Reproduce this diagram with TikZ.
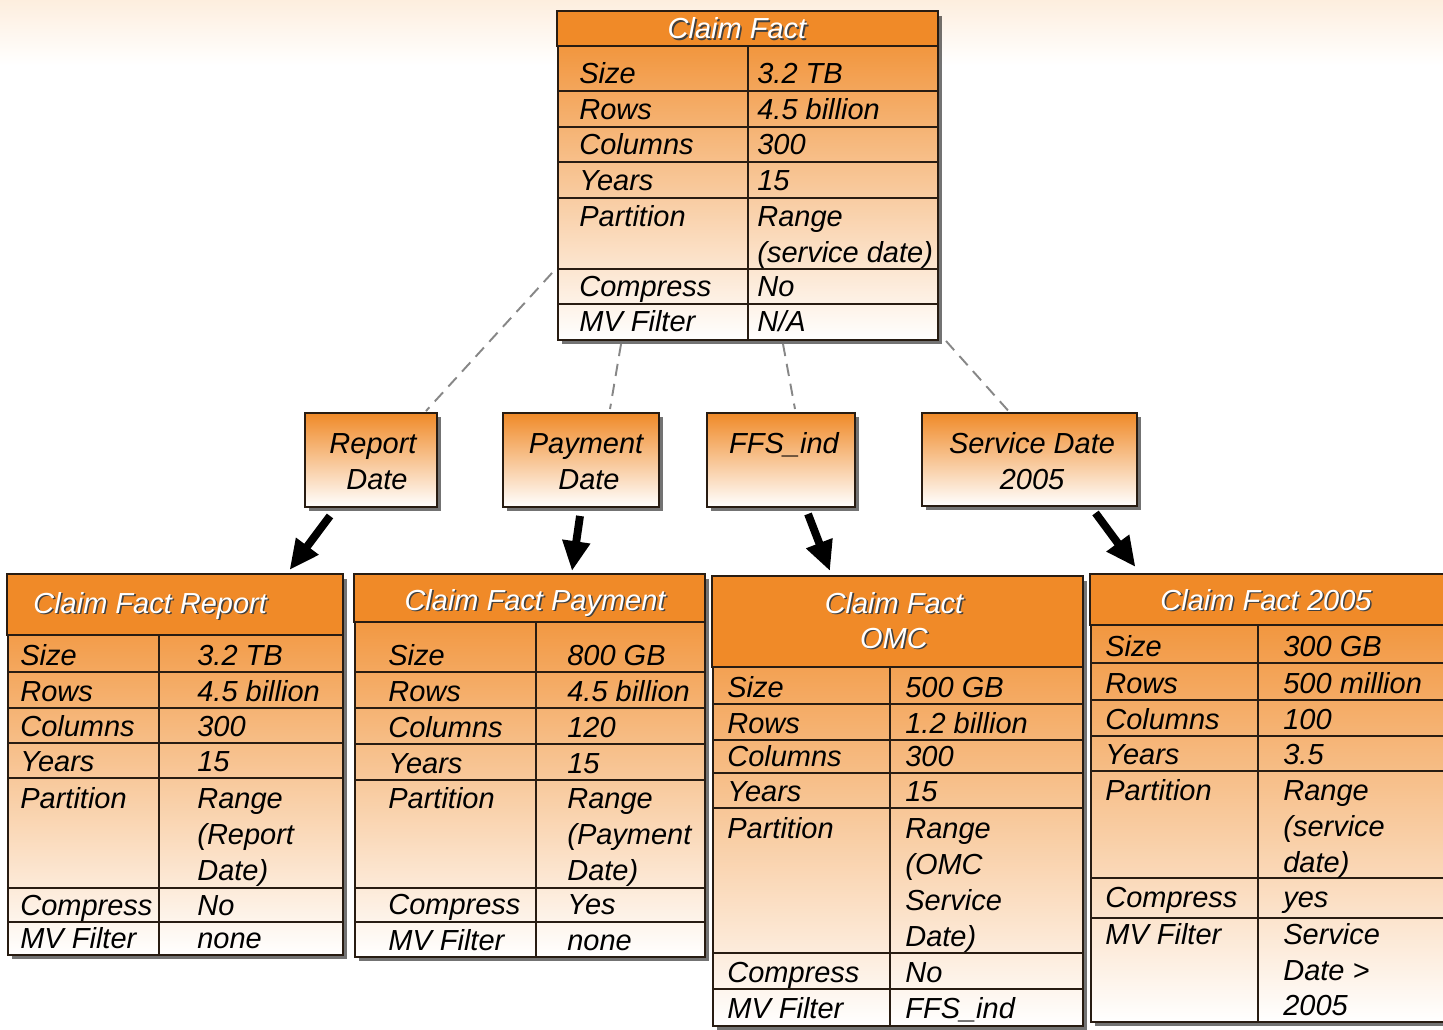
\documentclass[tikz,border=0pt]{standalone}
\usepackage{fontspec}
\setmainfont{Liberation Sans}
\definecolor{cforange}{RGB}{240,138,40}
\definecolor{cfpeach}{RGB}{253,238,222}
\definecolor{cfline}{RGB}{40,28,18}
\definecolor{cfdash}{RGB}{135,135,135}
\usetikzlibrary{arrows.meta,positioning,calc,fit,shadows}

\begin{document}
\begin{tikzpicture}[x=0.02cm,y=-0.02cm,
  txt/.style={font=\fontsize{16.5}{20.4}\selectfont\itshape},
  cell/.style={txt,anchor=base west,inner sep=0pt},
  tbl/.style={draw=cfline,line width=1.1pt,inner sep=0pt,top color=cforange,bottom color=white,
    drop shadow={shadow xshift=2.5pt,shadow yshift=-2.5pt,opacity=0.55,fill=black}},
  ttlband/.style={fill=cforange,draw=cfline,line width=1.1pt},
  ttl/.style={txt,white,anchor=base,inner sep=0pt},
  ttlshade/.style={txt,black!75,anchor=base,inner sep=0pt,xshift=0.9pt,yshift=-0.9pt},
  keybox/.style={tbl},
  keytxt/.style={txt,anchor=base,inner sep=0pt},
  rule/.style={cfline,line width=0.9pt},
  dashlink/.style={cfdash,line width=1.1pt,dash pattern=on 7pt off 4.5pt},
  push/.style={line width=4.5pt,-{Triangle[length=17pt,width=15pt]}}
]
  \useasboundingbox (0,0) rectangle (1443,1030);
  \clip (0,0) rectangle (1443,1030);
  \shade[top color=cfpeach,bottom color=white] (0,0) rectangle (1443,65);

  % Claim Fact
  \node[tbl,fit={(558,12) (938,340)}] (cf) {};
  \draw[ttlband] (cf.north west) rectangle (938,46);
  \node[ttlshade] (cft0) at (737,39) {Claim Fact};
  \node[ttl] (cft) at (737,39) {Claim Fact};
  \foreach \yy in {91,127,162,198,269,304} \draw[rule] (558,\yy) -- (938,\yy);
  \draw[rule] (748,46) -- (748,340);
  \foreach \lab/\val/\yb [count=\i] in {Size/3.2 TB/84,Rows/4.5 billion/120,Columns/300/155,
      Years/15/191,Partition/Range/227,Compress/No/297,MV Filter/{N/A}/332}{
    \node[cell] (cfl\i) at (579,\yb) {\lab};
    \node[cell] (cfv\i) at (757,\yb) {\val};
  }
  \node[cell] (cfv5b) at (757,263) {(service date)};

  % Claim Fact Report
  \node[tbl,fit={(8,575) (343,955)}] (crp) {};
  \draw[ttlband] (crp.north west) rectangle (343,635);
  \node[ttlshade,anchor=base west] (crpt0) at (33,613) {Claim Fact Report};
  \node[ttl,anchor=base west] (crpt) at (33,613) {Claim Fact Report};
  \foreach \yy in {672,708,743,778,888,922} \draw[rule] (8,\yy) -- (343,\yy);
  \draw[rule] (159,635) -- (159,955);
  \foreach \lab/\val/\yb [count=\i] in {Size/3.2 TB/665,Rows/4.5 billion/701,Columns/300/736,
      Years/15/771,Partition/Range/808,Compress/No/915,MV Filter/none/948}{
    \node[cell] (crpl\i) at (20,\yb) {\lab};
    \node[cell] (crpv\i) at (197,\yb) {\val};
  }
  \node[cell] (crpv5b) at (197,844) {(Report};
  \node[cell] (crpv5c) at (197,880) {Date)};

  % Claim Fact Payment
  \node[tbl,fit={(355,575) (705,957)}] (cpm) {};
  \draw[ttlband] (cpm.north west) rectangle (705,622);
  \node[ttlshade] (cpmt0) at (535,610) {Claim Fact Payment};
  \node[ttl] (cpmt) at (535,610) {Claim Fact Payment};
  \foreach \yy in {672,708,744,780,888,922} \draw[rule] (355,\yy) -- (705,\yy);
  \draw[rule] (536,622) -- (536,957);
  \foreach \lab/\val/\yb [count=\i] in {Size/800 GB/665,Rows/4.5 billion/701,Columns/120/737,
      Years/15/773,Partition/Range/808,Compress/Yes/914,MV Filter/none/950}{
    \node[cell] (cpml\i) at (388,\yb) {\lab};
    \node[cell] (cpmv\i) at (567,\yb) {\val};
  }
  \node[cell] (cpmv5b) at (567,844) {(Payment};
  \node[cell] (cpmv5c) at (567,880) {Date)};

  % Claim Fact OMC
  \node[tbl,fit={(713,577) (1083,1026)}] (omc) {};
  \draw[ttlband] (omc.north west) rectangle (1083,667);
  \node[ttlshade] (omct0) at (894,613) {Claim Fact};
  \node[ttl] (omct) at (894,613) {Claim Fact};
  \node[ttlshade] (omcu0) at (894,648) {OMC};
  \node[ttl] (omcu) at (894,648) {OMC};
  \foreach \yy in {704,740,773,808,953,989} \draw[rule] (713,\yy) -- (1083,\yy);
  \draw[rule] (890,667) -- (890,1026);
  \foreach \lab/\val/\yb [count=\i] in {Size/500 GB/697,Rows/1.2 billion/733,Columns/300/766,
      Years/15/801,Partition/Range/838,Compress/No/982,MV Filter/FFS\_ind/1018}{
    \node[cell] (omcl\i) at (727,\yb) {\lab};
    \node[cell] (omcv\i) at (905,\yb) {\val};
  }
  \node[cell] (omcv5b) at (905,874) {(OMC};
  \node[cell] (omcv5c) at (905,910) {Service};
  \node[cell] (omcv5d) at (905,946) {Date)};

  % Claim Fact 2005
  \node[tbl,fit={(1091,575) (1452,1022)}] (c05) {};
  \draw[ttlband] (c05.north west) rectangle (1452,625);
  \node[ttlshade] (c05t0) at (1266,610) {Claim Fact 2005};
  \node[ttl] (c05t) at (1266,610) {Claim Fact 2005};
  \foreach \yy in {663,700,736,771,878,918} \draw[rule] (1091,\yy) -- (1452,\yy);
  \draw[rule] (1258,625) -- (1258,1022);
  \foreach \lab/\val/\yb [count=\i] in {Size/300 GB/656,Rows/500 million/693,Columns/100/729,
      Years/3.5/764,Partition/Range/800,Compress/yes/907,MV Filter/Service/944}{
    \node[cell] (c05l\i) at (1105,\yb) {\lab};
    \node[cell] (c05v\i) at (1283,\yb) {\val};
  }
  \node[cell] (c05v5b) at (1283,836) {(service};
  \node[cell] (c05v5c) at (1283,872) {date)};
  \node[cell] (c05v7b) at (1283,980) {Date >};
  \node[cell] (c05v7c) at (1283,1015) {2005};

  % Split keys
  \node[keybox,fit={(305,413) (437,507)}] (rd) {};
  \node[keybox,fit={(503,413) (659,507)}] (pd) {};
  \node[keybox,fit={(707,413) (855,507)}] (ffs) {};
  \node[keybox,fit={(922,413) (1137,506)}] (sd) {};
  \node[keytxt] (rd1) at (373,453) {Report};
  \node[keytxt] (rd2) at (377,489) {Date};
  \node[keytxt] (pd1) at (586,453) {Payment};
  \node[keytxt] (pd2) at (589,489) {Date};
  \node[keytxt] (ffs1) at (784,453) {FFS\_ind};
  \node[keytxt] (sd1) at (1032,453) {Service Date};
  \node[keytxt] (sd2) at (1032,489) {2005};

  % Links
  \draw[dashlink] ($(cf.south west)+(-5,-68)$) -- ($(rd.north east)+(-12,-1)$);
  \draw[dashlink] ($(cf.south west)+(64,3)$) -- ($(pd.north)+(29,-3)$);
  \draw[dashlink] ($(cf.south)+(35,3)$) -- ($(ffs.north)+(14,-3)$);
  \draw[dashlink] ($(cf.south east)+(7,0)$) -- ($(sd.north)+(-21,-1)$);

  \draw[push] ($(rd.south)+(-41,8)$) -- ($(crp.north)+(114,-4)$);
  \draw[push] ($(pd.south)+(-1,8)$) -- ($(cpm.north)+(42,-3)$);
  \draw[push] ($(ffs.south)+(27,6)$) -- ($(omc.north)+(-68,-5)$);
  \draw[push] ($(sd.south)+(66,6)$) -- ($(c05.north)+(-136,-7)$);
\end{tikzpicture}
\end{document}
